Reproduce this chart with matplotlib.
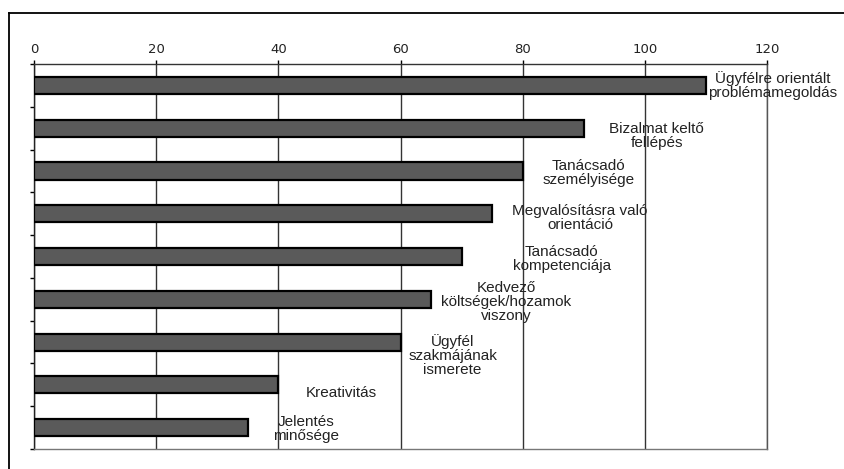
import numpy as np
import matplotlib.pyplot as plt
from matplotlib.lines import Line2D

# tényezők és pontszámok (felülről lefelé)
labels = [
    'Ügyfélre orientált\nproblémamegoldás',
    'Bizalmat keltő\nfellépés',
    'Tanácsadó\nszemélyisége',
    'Megvalósításra való\norientáció',
    'Tanácsadó\nkompetenciája',
    'Kedvező\nköltségek/hozamok\nviszony',
    'Ügyfél\nszakmájának\nismerete',
    'Kreativitás',
    'Jelentés\nminősége',
]
scores = [110, 90, 80, 75, 70, 65, 60, 40, 35]
xticks = [0, 20, 40, 60, 80, 100, 120]

# felirat eltolása a sáv végétől (pixel)
label_offsets = [(67, 0), (73, -8), (66, -2), (88, -4), (100, -2), (75, -3), (52, -13), (63, -8), (58, -1)]


def main():
    fig = plt.figure(figsize=(8.44, 4.69), dpi=100)
    ax = fig.add_axes([0.0403, 0.0426, 0.8685, 0.8209])

    pos = np.arange(len(scores))
    ax.barh(pos, scores, height=0.4, color='#5a5a5a', edgecolor='black', linewidth=1.6, zorder=3)

    ax.set_xlim(0, 120)
    ax.set_ylim(len(scores) - 0.5, -0.5)
    ax.xaxis.tick_top()
    ax.set_xticks(xticks)
    ax.set_xticklabels([str(t) for t in xticks], fontsize=9.5, color='#222222')
    ax.tick_params(axis='x', direction='out', length=3, width=1, pad=3, top=True, bottom=False)
    ax.xaxis.grid(True, color='#333333', linewidth=1, zorder=1)

    # kategóriahatárok jelölése a bal tengelyen
    ax.set_yticks(np.arange(len(scores) + 1) - 0.5)
    ax.set_yticklabels([])
    ax.tick_params(axis='y', direction='out', length=3, width=1)

    ax.spines['top'].set_color('#333333')
    ax.spines['left'].set_color('#222222')
    ax.spines['bottom'].set_color('#777777')
    ax.spines['right'].set_color('#555555')
    for s in ax.spines.values():
        s.set_linewidth(1)

    for i, (txt, val) in enumerate(zip(labels, scores)):
        dx, dy = label_offsets[i]
        ax.annotate(txt, xy=(val, i), xytext=(dx, dy), textcoords='offset pixels',
                    ha='center', va='center', fontsize=11, family='Liberation Sans',
                    color='#222222', linespacing=1.0, zorder=4, annotation_clip=False)

    # keret a bal és felső oldalon
    fig.add_artist(Line2D([0.0107, 0.0107], [0, 0.9723], transform=fig.transFigure,
                          color='black', linewidth=1.3))
    fig.add_artist(Line2D([0.0107, 1], [0.9723, 0.9723], transform=fig.transFigure,
                          color='black', linewidth=1.3))

    fig.savefig('out.png', dpi=100)


if __name__ == '__main__':
    main()
